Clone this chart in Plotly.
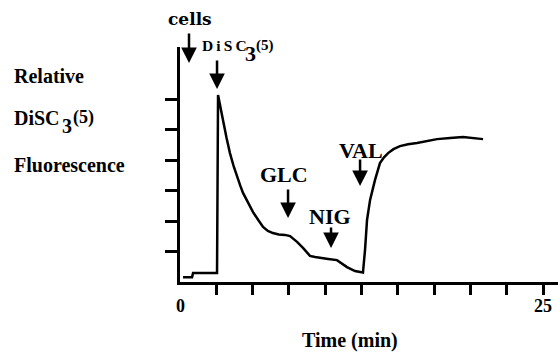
import plotly.graph_objects as go

# ---- data ----
time_min = [0.21, 0.83, 0.90, 2.55, 2.62, 2.75, 2.96, 3.20, 3.44, 3.70, 3.93, 4.15,
            4.34, 4.70, 5.03, 5.40, 5.72, 6.05, 6.40, 6.80, 7.23, 7.58, 8.06, 8.47,
            8.95, 9.30, 9.64, 10.20, 10.81, 11.20, 11.50, 12.05, 12.60, 12.74, 12.88,
            13.09, 13.43, 13.77, 14.05, 14.33, 14.70, 15.15, 15.70, 16.32, 17.00,
            17.70, 18.60, 19.49, 20.87]
fluor = [0.16, 0.16, 0.30, 0.30, 6.15, 5.80, 5.33, 4.75, 4.24, 3.80, 3.45, 3.17,
         2.93, 2.60, 2.30, 2.03, 1.81, 1.68, 1.61, 1.56, 1.55, 1.51, 1.32, 1.12,
         0.86, 0.82, 0.79, 0.76, 0.72, 0.60, 0.49, 0.36, 0.31, 1.05, 2.04,
         2.70, 3.36, 3.91, 4.10, 4.24, 4.37, 4.47, 4.53, 4.57, 4.64,
         4.70, 4.74, 4.77, 4.70]

event_labels = ["cells", "DiSC3(5)", "GLC", "NIG", "VAL"]
event_times = [0.62, 2.55, 7.44, 10.40, 12.40]

x_tick_vals = [2.5, 5, 7.5, 10, 12.5, 15, 17.5, 20, 22.5, 25]
x_label_vals = [0, 25]
x_label_text = ["0", "25"]
y_tick_vals = [1, 2, 3, 4, 5, 6]

# ---- geometry helpers (pixel layout) ----
W, H = 558, 352
L, R, T, B = 180, 0, 47, 70
PW, PH = W - L - R, H - T - B
XMAX = 26.03
YMAX = 7.73

def px_x(px):
    return (px - L) / PW

def px_y(py):
    return (H - B - py) / PH

def dy(py):
    return (H - B - py) / PH * YMAX

SERIF = "Liberation Serif"
bold = dict(family=SERIF, color="black", weight="bold")

fig = go.Figure()
fig.add_trace(go.Scatter(x=time_min, y=fluor, mode="lines",
                         line=dict(color="black", width=2.5),
                         hoverinfo="skip", showlegend=False))

ann = []
# event arrows (tip y in pixel -> data, tail offset in px)
arrow_tips = [63, 89, 218, 248, 186]
arrow_len = [31, 30, 30, 22, 28]
for t, tip, ln in zip(event_times, arrow_tips, arrow_len):
    ann.append(dict(x=t, y=dy(tip), xref="x", yref="y", text="", showarrow=True,
                    ax=0, ay=-ln, arrowhead=2, arrowsize=1.25, arrowwidth=2.5,
                    arrowcolor="black", standoff=0, startstandoff=0))

def label(txt, cx, cy, size, xanchor="center", family=SERIF):
    ann.append(dict(x=px_x(cx), y=px_y(cy), xref="paper", yref="paper", text=txt,
                    showarrow=False, xanchor=xanchor, yanchor="middle", borderpad=0,
                    font=dict(family=family, size=size, color="black", weight="bold")))

# event labels
label(event_labels[0], 189.5, 19, 17, family="DejaVu Serif")
# "DiSC3(5)" drawn as three pieces: letters, lowered 3, (5)
label("D\u2009i\u2009S\u2009C", 201, 45.5, 15.5, xanchor="left")
label("3", 250, 53, 22)
label("(5)", 264.5, 45.5, 15)
label(event_labels[2], 284, 174, 22)
label(event_labels[3], 329.5, 217, 22)
label(event_labels[4], 361, 150, 22)

# y-axis title lines
label("Relative", 13, 76, 20, xanchor="left")
label("DiSC", 13, 117.5, 20, xanchor="left")
label("3", 67, 126, 20)
label("(5)", 72.5, 117.5, 18, xanchor="left")
label("Fluorescence", 13, 165, 20, xanchor="left")

# x-axis title
label("Time (min)", 349.5, 340, 20)

# x tick labels
for v, s in zip(x_label_vals, x_label_text):
    ann.append(dict(x=v, y=px_y(306), xref="x", yref="paper", text=s, showarrow=False,
                    xanchor="center", yanchor="middle", borderpad=0,
                    font=dict(bold, size=18)))

fig.update_layout(
    width=W, height=H, margin=dict(l=L, r=R, t=T, b=B, pad=0),
    paper_bgcolor="white", plot_bgcolor="white",
    annotations=ann,
    xaxis=dict(range=[0, XMAX], showgrid=False, zeroline=False, showline=True,
               linecolor="black", linewidth=3, ticks="outside", ticklen=10, tickwidth=3,
               tickcolor="black", tickmode="array", tickvals=x_tick_vals,
               showticklabels=False, fixedrange=True),
    yaxis=dict(range=[0, YMAX], showgrid=False, zeroline=False, showline=True,
               linecolor="black", linewidth=3, ticks="outside", ticklen=12, tickwidth=3,
               tickcolor="black", tickmode="array", tickvals=y_tick_vals,
               showticklabels=False, fixedrange=True),
)

fig.write_html("out.html", config={"displayModeBar": False})
